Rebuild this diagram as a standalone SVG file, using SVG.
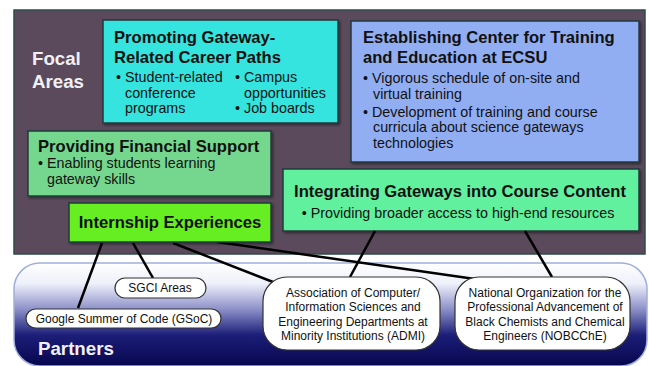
<svg xmlns="http://www.w3.org/2000/svg" width="649" height="366" viewBox="0 0 649 366">
<defs>
<linearGradient id="pg" x1="0" y1="0" x2="0" y2="1">
<stop offset="0" stop-color="#ffffff"/>
<stop offset="0.2" stop-color="#eef0fa"/>
<stop offset="0.45" stop-color="#8c90c8"/>
<stop offset="0.7" stop-color="#1c1e78"/>
<stop offset="1" stop-color="#06064e"/>
</linearGradient>
<filter id="sh" x="-5%" y="-5%" width="110%" height="115%">
<feDropShadow dx="1.5" dy="1.5" stdDeviation="1" flood-color="#000" flood-opacity="0.45"/>
</filter>
</defs>
<style>
text{font-family:"Liberation Sans",Arial,sans-serif;fill:#111}
.t{font-weight:bold;font-size:16.6px}
.b{font-size:14.3px}
.o{font-size:12px;text-anchor:middle}
.box{stroke:#243a3a;stroke-width:1.5}
.oval{fill:#fff;stroke:#333;stroke-width:1.2}
.c{stroke:#000;stroke-width:2.5;fill:none}
.w{font-weight:bold;font-size:18.7px;fill:#f0f0f4}
</style>
<rect width="649" height="366" fill="#fff"/>
<rect id="focal-bg" x="14" y="10" width="631" height="244" fill="#5a4a5c" stroke="#2f4a48" stroke-width="1.5"/>
<rect id="partners-bg" x="14" y="263" width="633" height="103" rx="26" fill="url(#pg)" stroke="#9fb0dc" stroke-width="1.5"/>
<g id="labels">
<text class="w" x="32" y="65">Focal</text>
<text class="w" x="32" y="88">Areas</text>
<text class="w" x="38" y="355">Partners</text>
</g>
<g id="career">
<rect class="box" x="103" y="20" width="235" height="103" fill="#36e4de" filter="url(#sh)"/>
<text class="t" x="114" y="43">Promoting Gateway-</text>
<text class="t" x="114" y="63">Related Career Paths</text>
<text class="b" x="116" y="82">• Student-related</text>
<text class="b" x="125" y="98">conference</text>
<text class="b" x="125" y="113">programs</text>
<text class="b" x="235" y="82">• Campus</text>
<text class="b" x="244" y="98">opportunities</text>
<text class="b" x="235" y="113">• Job boards</text>
</g>
<g id="center">
<rect class="box" x="351" y="21" width="288" height="141" fill="#92aef2" filter="url(#sh)"/>
<text class="t" x="363" y="43">Establishing Center for Training</text>
<text class="t" x="363" y="63">and Education at ECSU</text>
<text class="b" x="363" y="83">• Vigorous schedule of on-site and</text>
<text class="b" x="373" y="99">virtual training</text>
<text class="b" x="363" y="117">• Development of training and course</text>
<text class="b" x="373" y="132">curricula about science gateways</text>
<text class="b" x="373" y="148">technologies</text>
</g>
<g id="financial">
<rect class="box" x="28" y="131" width="243" height="65" fill="#74d68e" filter="url(#sh)"/>
<text class="t" x="38" y="152">Providing Financial Support</text>
<text class="b" x="38" y="168">• Enabling students learning</text>
<text class="b" x="47" y="184">gateway skills</text>
</g>
<g id="integrating">
<rect class="box" x="283" y="169" width="356" height="62" fill="#60f09e" filter="url(#sh)"/>
<text class="t" x="460" y="197" text-anchor="middle">Integrating Gateways into Course Content</text>
<text class="b" x="458" y="218" text-anchor="middle">• Providing broader access to high-end resources</text>
</g>
<g id="connectors">
<line class="c" x1="102" y1="243" x2="78" y2="308"/>
<line class="c" x1="133" y1="243" x2="153" y2="278"/>
<line class="c" x1="173" y1="243" x2="273" y2="282"/>
<line class="c" x1="217" y1="242" x2="475" y2="279"/>
<line class="c" x1="375" y1="231" x2="350" y2="277"/>
<line class="c" x1="525" y1="231" x2="552" y2="277"/>
</g>
<g id="internship">
<rect class="box" x="69" y="203" width="202" height="39" fill="#66ee22" filter="url(#sh)"/>
<text class="t" x="170" y="228" text-anchor="middle">Internship Experiences</text>
</g>
<g id="sgci">
<rect class="oval" x="115" y="278" width="91" height="20" rx="10"/>
<text class="o" x="160" y="292">SGCI Areas</text>
</g>
<g id="gsoc">
<rect class="oval" x="26" y="309" width="195" height="19" rx="9.5"/>
<text class="o" x="124" y="323">Google Summer of Code (GSoC)</text>
</g>
<g id="admi">
<rect class="oval" x="263" y="277" width="177" height="73" rx="24"/>
<text class="o" x="353" y="297">Association of Computer/</text>
<text class="o" x="353" y="311">Information Sciences and</text>
<text class="o" x="353" y="326">Engineering Departments at</text>
<text class="o" x="353" y="340">Minority Institutions (ADMI)</text>
</g>
<g id="nobcche">
<rect class="oval" x="455" y="277" width="175" height="73" rx="24"/>
<text class="o" x="545" y="297">National Organization for the</text>
<text class="o" x="545" y="311">Professional Advancement of</text>
<text class="o" x="545" y="326">Black Chemists and Chemical</text>
<text class="o" x="545" y="340">Engineers (NOBCChE)</text>
</g>
</svg>
